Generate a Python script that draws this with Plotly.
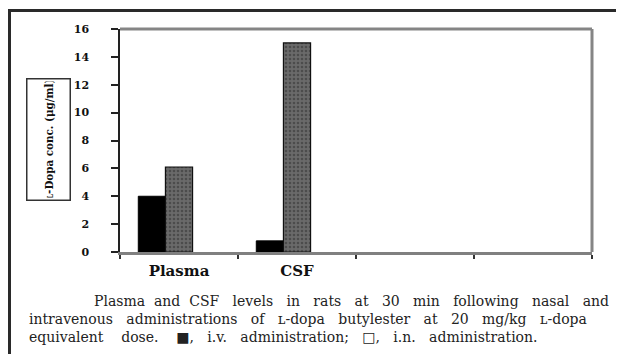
import plotly.graph_objects as go

categories = ["Plasma", "CSF", "c3", "c4"]
tick_labels = ["Plasma", "CSF", "", ""]
iv_values = [4.0, 0.8, None, None]
in_values = [6.1, 15.0, None, None]
y_ticks = [0, 2, 4, 6, 8, 10, 12, 14, 16]

caption_lines = [
    "Plasma and CSF levels in rats at 30 min following nasal and",
    "intravenous administrations of \u029f-dopa butylester at 20 mg/kg \u029f-dopa",
    "equivalent dose. \u25a0, i.v. administration; \u25a1, i.n. administration.",
]

OFF = 8  # body margin of the page
W, H = 624 - OFF, 354 - OFF
L, R, T, B = 120 - OFF, 32, 29 - OFF, 102
pw, ph = W - L - R, H - T - B

def px(x):
    return (x - OFF - L) / pw

def py(y):
    return (H - B - (y - OFF)) / ph

serif = "DejaVu Serif, serif"

def spread(line, base=2, tweak=0):
    # justify-like spacing: base extra nbsp per gap, tweak adds/removes one on first |tweak| gaps
    words = line.split(" ")
    out = words[0]
    for i, w in enumerate(words[1:]):
        n = base
        if i < abs(tweak):
            n += 1 if tweak > 0 else -1
        out += " " + "\u00a0" * n + w
    return out

fig = go.Figure()
fig.add_trace(go.Bar(
    x=categories, y=iv_values, name="i.v.",
    marker=dict(color="#000000", line=dict(color="#000000", width=1)),
    width=0.23, offset=-0.345,
))
fig.add_trace(go.Bar(
    x=categories, y=in_values, name="i.n.",
    marker=dict(color="#5c5c5c", line=dict(color="#111111", width=1.2),
                pattern=dict(shape=".", fgcolor="#2e2e2e", bgcolor="#6a6a6a", size=4, solidity=0.35)),
    width=0.23, offset=-0.115,
))

fig.update_layout(
    width=W, height=H,
    margin=dict(l=L, r=R, t=T, b=B),
    paper_bgcolor="white", plot_bgcolor="white",
    showlegend=False,
    barmode="overlay",
    font=dict(family=serif, color="#111111"),
    xaxis=dict(
        type="category", categoryorder="array", categoryarray=categories,
        tickvals=categories, ticktext=["<b>%s</b>" % t if t else "" for t in tick_labels],
        range=[-0.5, 3.5], tickson="boundaries",
        ticks="outside", ticklen=4, tickwidth=2, tickcolor="#333333",
        showline=True, linecolor="#808080", linewidth=3,
        showgrid=False, zeroline=False,
        tickfont=dict(size=15, family=serif, color="#111111"),
        ticklabelstandoff=3,
    ),
    yaxis=dict(
        range=[0, 16], tickvals=y_ticks, ticktext=["<b>%d</b>" % v for v in y_ticks],
        ticks="outside", ticklen=7, tickwidth=1.5, tickcolor="#222222",
        showline=True, linecolor="#222222", linewidth=1.5,
        showgrid=False, zeroline=False,
        tickfont=dict(size=11, family=serif, color="#111111"),
        ticklabelstandoff=20,
    ),
)

# plot area top/right frame
fig.add_shape(type="line", xref="paper", yref="paper", x0=0, x1=1, y0=1, y1=1,
              line=dict(color="#858585", width=3))
fig.add_shape(type="line", xref="paper", yref="paper", x0=1, x1=1, y0=0, y1=1,
              line=dict(color="#858585", width=3))

# outer frame
fig.add_shape(type="rect", xref="paper", yref="paper",
              x0=px(9.5), x1=px(640), y0=py(370), y1=py(10.5),
              line=dict(color="#2a2a2a", width=3))

# y-axis title in a box
fig.add_annotation(
    xref="paper", yref="paper", x=px(48.5), y=py(139.5), xanchor="center", yanchor="middle",
    text="<b>\u029f-Dopa conc. (\u03bcg/ml)</b>", textangle=-90, showarrow=False,
    font=dict(size=11.5, family="DejaVu Serif Condensed, DejaVu Serif", color="#111111"),
    bordercolor="#333333", borderwidth=1.5, borderpad=2, bgcolor="white",
    width=116, height=38,
)

# caption
for text, x0, y0, tw in [(caption_lines[0], 92, 301, -2), (caption_lines[1], 27, 319, 0), (caption_lines[2], 27, 337, 2)]:
    fig.add_annotation(xref="paper", yref="paper", x=px(x0), y=py(y0), xanchor="left", yanchor="middle",
                       text=spread(text, 2, tw), showarrow=False, font=dict(size=14, family=serif, color="#222222"))

fig.write_html("out.html")
